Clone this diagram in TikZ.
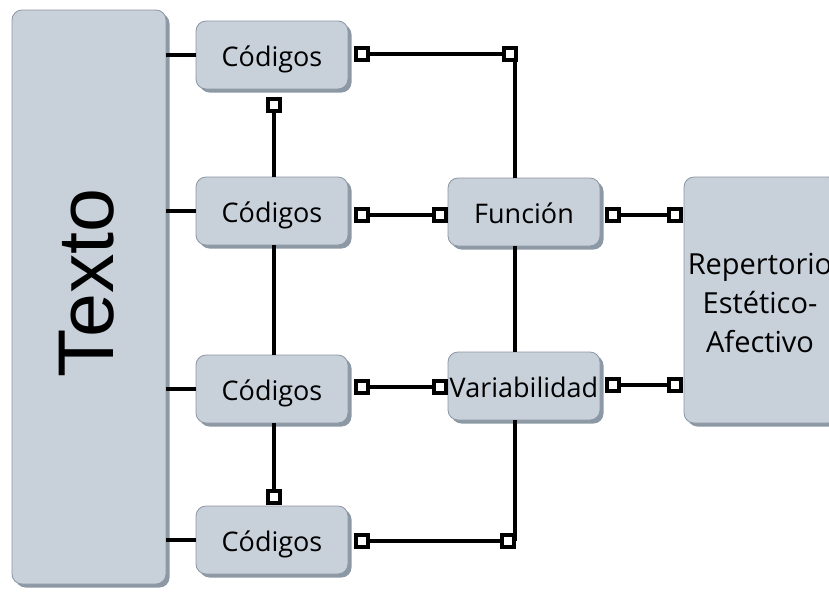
\documentclass[tikz,border=0pt]{standalone}
\usepackage{fontspec}
\setmainfont{Open Sans}
\newfontfamily\bigfont{Liberation Sans}
\usetikzlibrary{shadows}
\definecolor{boxfill}{HTML}{C8D0DA}
\definecolor{boxline}{HTML}{8A96A3}
\definecolor{boxshadow}{HTML}{8D98A5}
\tikzset{
  box/.style={draw=boxline, line width=0.8pt, fill=boxfill, rounded corners=10pt,
    drop shadow={shadow xshift=3.5pt, shadow yshift=-3.5pt, fill=boxshadow, opacity=1},
    font=\fontsize{27}{39}\selectfont, text=black, align=center, inner sep=0pt},
  sbox/.style={box, minimum width=152pt, minimum height=68pt, text height=29pt, text depth=6pt},
  sq/.style={draw=black, line width=4.4pt, fill=white, minimum size=12pt, inner sep=0pt},
  conn/.style={line width=4.4pt, black},
  lbl/.style={font=\fontsize{29}{39}\selectfont, text=black, align=center, inner sep=0pt},
}
\begin{document}
\begin{tikzpicture}[x=1pt, y=-1pt]
\useasboundingbox (0,0) rectangle (829,592);
\clip (0,0) rectangle (829,592);
% boxes
\node[box, minimum width=154pt, minimum height=574pt] (texto) at (89,297) {};
\node[font=\bigfont\fontsize{79}{79}\selectfont, rotate=90, text=black] (textolbl) at (87,283) {Texto};
\node[sbox] (c1) at (272,55) {Códigos};
\node[sbox] (c2) at (272,211) {Códigos};
\node[sbox] (c3) at (272,389) {Códigos};
\node[sbox] (c4) at (272,540) {Códigos};
\node[sbox] (fun) at (524,212) {Función};
\node[sbox] (var) at (524,386) {Variabilidad};
\node[box, minimum width=154pt, minimum height=246pt] (rep) at (761,300) {};
\node[lbl] (replbl) at (760,303) {Repertorio\\Estético-\\Afectivo};
% squares
\node[sq] (s1) at (362,54) {};
\node[sq] (j1) at (510,54) {};
\node[sq] (s1b) at (274,105) {};
\node[sq] (s2) at (362,215) {};
\node[sq] (f1) at (440,215) {};
\node[sq] (s3) at (362,387) {};
\node[sq] (v1) at (440,387) {};
\node[sq] (s4) at (362,541) {};
\node[sq] (j4) at (508,541) {};
\node[sq] (s4t) at (274,497) {};
\node[sq] (f2) at (613,215) {};
\node[sq] (r1) at (675,215) {};
\node[sq] (v2) at (613,385) {};
\node[sq] (r2) at (675,385) {};
\coordinate (vx) at (515,0);
% connectors from Texto
\foreach \c in {c1,c2,c3,c4}{
  \draw[conn] (\c.west) -- (\c.west -| texto.east);
}
\draw[conn] (s1) -- (j1);
\draw[conn] (j1.center -| vx) -- (fun.north -| vx);
\draw[conn] (fun.south -| vx) -- (var.north -| vx);
\draw[conn] (var.south -| vx) -- (j4.center -| vx);
\draw[conn] (s4) -- (j4);
\draw[conn] (s2) -- (f1);
\draw[conn] (s3) -- (v1);
\draw[conn] (f2) -- (r1);
\draw[conn] (v2) -- (r2);
\draw[conn] (s1b) -- (c2.north -| s1b);
\draw[conn] (c2.south -| s1b) -- (c3.north -| s1b);
\draw[conn] (c3.south -| s4t) -- (s4t);
% redraw squares on top
\foreach \s in {s1,j1,s1b,s2,f1,s3,v1,s4,j4,s4t,f2,r1,v2,r2}{
  \node[sq] at (\s) {};
}
\end{tikzpicture}
\end{document}
